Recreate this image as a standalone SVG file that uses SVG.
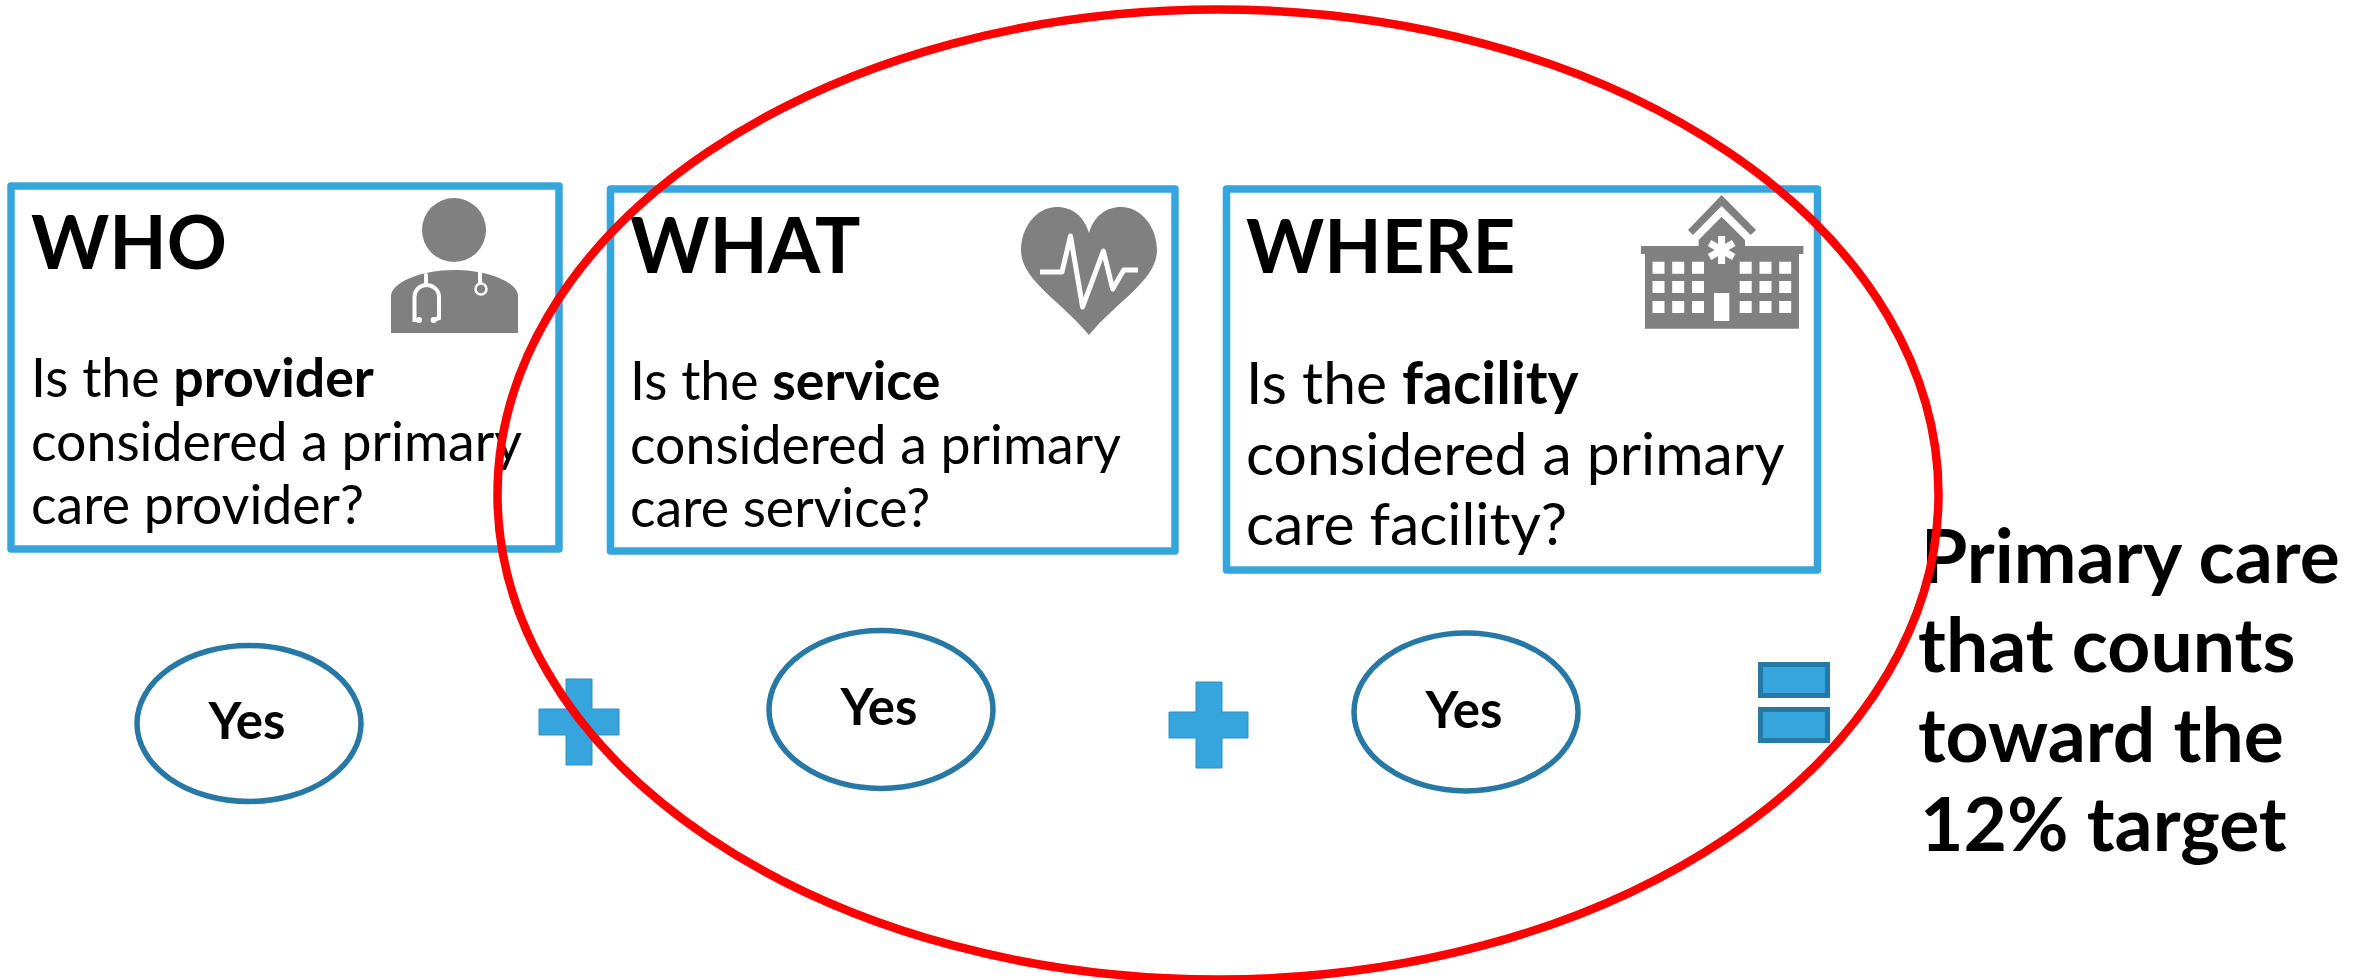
<svg xmlns="http://www.w3.org/2000/svg" width="2369" height="980" viewBox="0 0 2369 980">
<style>
text{font-family:Lato,"Liberation Sans",sans-serif;fill:#000}
.box{fill:#fff;stroke:#36a5dd;stroke-width:7.500;stroke-linejoin:round}
.h{font-size:74.500px;font-weight:700}
.b{font-size:53.600px}
.b2{font-size:58.800px}
.s{font-weight:700}
.yes{fill:#fff;stroke:#2878a5;stroke-width:5.5}
.y{font-size:51px;font-weight:700;text-anchor:middle}
.plus{fill:#36a5dd;stroke:#2f8fc0;stroke-width:1}
.eq{fill:#36a5dd;stroke:#2878a5;stroke-width:5}
.ic{fill:#808080}
.w{fill:#fff}
.wl{fill:none;stroke:#fff;stroke-width:4;stroke-linecap:round}
.r{font-size:75px;font-weight:700}
</style>
<rect width="2369" height="980" fill="#fff"/>
<g id="who">
<rect class="box" x="11" y="186" width="548" height="363"/>
<text class="h" x="31" y="269">WHO</text>
<text class="b" x="31"><tspan y="397">Is the <tspan class="s">provider</tspan></tspan><tspan x="31" y="460.500">considered a primary</tspan><tspan x="31" y="524">care provider?</tspan></text>
<g id="doctor-icon">
<ellipse class="ic" cx="454" cy="230" rx="32" ry="32"/>
<path class="ic" d="M391 333V296C391 283 420 270 454 270C490 270 518 283 518 296V333Z"/>
<path class="wl" d="M426 275V285M419 320H414.500V297C414.500 290 420 285 426.700 285C433 285 439 290 439 297V318L433.600 320M480 273V283"/>
<circle cx="419" cy="320" r="3" fill="#fff"/><circle cx="433.600" cy="320" r="3" fill="#fff"/>
<circle cx="481" cy="289" r="5.500" fill="none" stroke="#fff" stroke-width="2.500"/>
</g>
</g>
<g id="what">
<rect class="box" x="610.500" y="189" width="564.500" height="362"/>
<text class="h" x="630" y="273" style="font-size:75.700px">WHAT</text>
<text class="b" x="630"><tspan y="400">Is the <tspan class="s">service</tspan></tspan><tspan x="630" y="463.500">considered a primary</tspan><tspan x="630" y="527">care service?</tspan></text>
<g id="heart-icon">
<path class="ic" d="M1089 233C1084 216 1072 207 1057 207C1036 207 1021 228 1021 250C1021 280 1060 300 1089 335C1118 300 1157 280 1157 250C1157 228 1142 207 1121 207C1106 207 1094 216 1089 233Z"/>
<polyline points="1040,272 1062,272 1070.500,236 1082.600,307 1103.400,251 1112.700,289 1123.700,270 1138,270" fill="none" stroke="#fff" stroke-width="5" stroke-linejoin="round"/>
</g>
</g>
<g id="where">
<rect class="box" x="1226.500" y="189" width="591" height="381"/>
<text class="h" x="1246" y="273">WHERE</text>
<text class="b2" x="1246"><tspan y="404">Is the <tspan class="s">facility</tspan></tspan><tspan x="1246" y="474.500">considered a primary</tspan><tspan x="1246" y="545">care facility?</tspan></text>
<g id="hospital-icon">
<path class="ic" d="M1721.600 195L1756 230L1750.700 235L1721.600 206L1693 235L1688 230ZM1721.600 216.700L1745 240V246H1698.600V240ZM1641 246H1803.400V254H1799V328.700H1645V254H1641Z"/>
<path class="w" d="M1652.500 261.700h12v12h-12zM1672.200 261.700h12v12h-12zM1692 261.700h12v12h-12zM1739.700 261.700h12v12h-12zM1759.500 261.700h12v12h-12zM1779.200 261.700h12v12h-12zM1652.500 281h12v12h-12zM1672.200 281h12v12h-12zM1692 281h12v12h-12zM1739.700 281h12v12h-12zM1759.500 281h12v12h-12zM1779.200 281h12v12h-12zM1652.500 301h12v12h-12zM1672.200 301h12v12h-12zM1692 301h12v12h-12zM1739.700 301h12v12h-12zM1759.500 301h12v12h-12zM1779.200 301h12v12h-12zM1714 293h15.300v28h-15.300z"/>
<path d="M1721.600 236V264M1709.500 243L1733.700 257M1709.500 257L1733.700 243" stroke="#fff" stroke-width="7" fill="none"/>
</g>
</g>
<g id="yes1"><ellipse class="yes" cx="249" cy="723.500" rx="112" ry="78"/><text class="y" x="247" y="739">Yes</text></g>
<g id="yes2"><ellipse class="yes" cx="881" cy="709.500" rx="112" ry="79"/><text class="y" x="879" y="725">Yes</text></g>
<g id="yes3"><ellipse class="yes" cx="1466" cy="712" rx="112" ry="79"/><text class="y" x="1464" y="728">Yes</text></g>
<g id="plus1"><path class="plus" d="M566 679H592V709H619V735H592V765H566V735H539V709H566Z"/></g>
<g id="plus2"><path class="plus" d="M1196 682H1222V712H1248V738H1222V768H1196V738H1169V712H1196Z"/></g>
<g id="equals"><rect class="eq" x="1760.500" y="664.500" width="67" height="31"/><rect class="eq" x="1760.500" y="709.500" width="67" height="31"/></g>
<g id="result"><text class="r" x="1921"><tspan y="583">Primary care</tspan><tspan x="1918" y="672">that counts</tspan><tspan x="1918" y="762">toward the</tspan><tspan x="1920" y="851">12% target</tspan></text></g>
<g id="connectors"><ellipse cx="1218" cy="494.500" rx="720.500" ry="485" fill="none" stroke="#f00" stroke-width="8.500"/></g>
</svg>
